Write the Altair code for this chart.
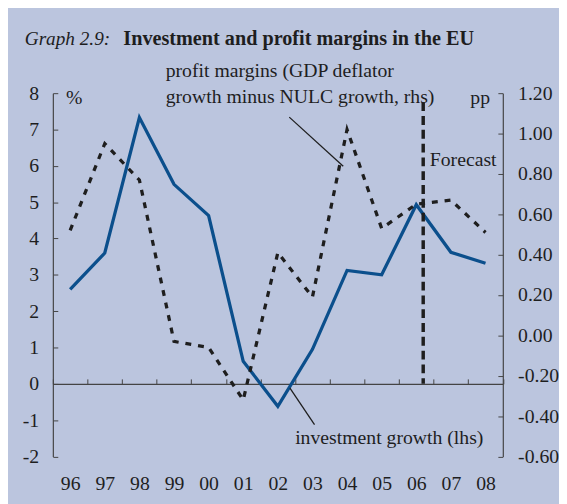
import altair as alt
import pandas as pd

# ---- data -------------------------------------------------------------
years = ["96", "97", "98", "99", "00", "01", "02", "03", "04", "05", "06", "07", "08"]
investment = [2.6, 3.6, 7.33, 5.49, 4.63, 0.62, -0.62, 0.95, 3.12, 3.0, 4.93, 3.62, 3.32]
profit = [0.52, 0.95, 0.77, -0.03, -0.06, -0.32, 0.41, 0.19, 1.02, 0.53, 0.65, 0.67, 0.51]
left_ticks = [-2, -1, 0, 1, 2, 3, 4, 5, 6, 7, 8]
right_ticks = [-0.6, -0.4, -0.2, 0.0, 0.2, 0.4, 0.6, 0.8, 1.0, 1.2]
forecast_pos = 10.7   # between 06 and 07 (index units)

FONT = "Liberation Serif"
BG = "#bbc5de"
BLUE = "#0b4f8c"
INK = "#1e1e1e"
AXC = "#444444"
FS = 20

W, H = 456.5, 368.6
n = len(years)
df = pd.DataFrame({
    "pos": [i + 0.5 for i in range(n)],
    "year": years,
    "investment": investment,
    "profit": profit,
})

xscale = alt.Scale(domain=[0, n], nice=False, zero=False)
lscale = alt.Scale(domain=[-2, 8], nice=False, zero=False)
rscale = alt.Scale(domain=[-0.6, 1.2], nice=False, zero=False)

year_arr = "[" + ",".join("'" + y + "'" for y in years) + "]"
zero_offset = -H * (0 - (-2)) / 10.0

inv = alt.Chart(df).mark_line(color=BLUE, strokeWidth=3.3).encode(
    x=alt.X("pos:Q", scale=xscale, axis=alt.Axis(
        orient="bottom", offset=zero_offset, values=list(range(n + 1)),
        labels=False, tickSize={"expr": "-5"}, tickColor=AXC, tickWidth=1,
        domainColor=AXC, domainWidth=1.2, grid=False, title=None)),
    y=alt.Y("investment:Q", scale=lscale, axis=alt.Axis(
        orient="left", values=left_ticks, tickSize={"expr": "-5"},
        tickColor=AXC, domainColor=AXC, domainWidth=1.2, labelPadding=19.5,
        labelExpr="datum.value < 0 ? '-' + abs(datum.value) : '' + datum.value",
        labelFont=FONT, labelFontSize=FS, labelColor=INK, grid=False, title=None)),
)

prof = alt.Chart(df).mark_line(color=INK, strokeWidth=3.3, strokeDash=[6, 7]).encode(
    x=alt.X("pos:Q", scale=xscale, axis=alt.Axis(
        orient="bottom", values=[i + 0.5 for i in range(n)], ticks=False, domain=False,
        labelExpr=year_arr + "[floor(datum.value)]", labelPadding=18,
        labelFont=FONT, labelFontSize=FS, labelColor=INK, grid=False, title=None)),
    y=alt.Y("profit:Q", scale=rscale, axis=alt.Axis(
        orient="right", values=right_ticks, tickSize={"expr": "-5"},
        tickColor=AXC, domainColor=AXC, domainWidth=1.2, labelPadding=20,
        labelExpr="(datum.value < -0.001 ? '-' : '') + format(abs(datum.value), '.2f')",
        labelFont=FONT, labelFontSize=FS, labelColor=INK, grid=False, title=None)),
)

fc = pd.DataFrame({"x": [forecast_pos], "y": [7.75], "y2": [0]})
forecast = alt.Chart(fc).mark_rule(color=INK, strokeWidth=3.5, strokeDash=[9, 5]).encode(
    x=alt.X("x:Q", scale=xscale, axis=None),
    y=alt.Y("y:Q", scale=lscale, axis=None),
    y2="y2:Q",
)

lead = pd.DataFrame({
    "x": [6.83, 6.85], "x2": [8.39, 7.56],
    "y": [7.34, -0.12], "y2": [5.99, -1.12],
})
leaders = alt.Chart(lead).mark_rule(color=INK, strokeWidth=1.3).encode(
    x=alt.X("x:Q", scale=xscale, axis=None), x2="x2:Q",
    y=alt.Y("y:Q", scale=lscale, axis=None), y2="y2:Q",
)

ann_left = pd.DataFrame({
    "text": ["profit margins (GDP deflator", "growth minus NULC growth, rhs)", "%",
             "Forecast", "investment growth (lhs)"],
    "x": [3.26, 3.26, 0.38, 10.89, 7.0],
    "y": [8.62, 7.89, 7.86, 6.15, -1.5],
})
ann_l = alt.Chart(ann_left).mark_text(align="left", baseline="middle", font=FONT,
                                      fontSize=FS, color=INK).encode(
    x=alt.X("x:Q", scale=xscale, axis=None),
    y=alt.Y("y:Q", scale=lscale, axis=None),
    text="text:N",
)
ann_right = pd.DataFrame({"text": ["pp"], "x": [12.63], "y": [7.86]})
ann_r = alt.Chart(ann_right).mark_text(align="right", baseline="middle", font=FONT,
                                       fontSize=FS, color=INK).encode(
    x=alt.X("x:Q", scale=xscale, axis=None),
    y=alt.Y("y:Q", scale=lscale, axis=None),
    text="text:N",
)

title_df = pd.DataFrame({"a": ["Graph 2.9:"], "b": ["Investment and profit margins in the EU"]})
t1 = alt.Chart(title_df).mark_text(align="left", baseline="alphabetic", font=FONT,
                                   fontSize=19.5, fontStyle="italic", color=INK).encode(
    x=alt.value(25 - 53.5), y=alt.value(41.7 - 90.8), text="a:N")
t2 = alt.Chart(title_df).mark_text(align="left", baseline="alphabetic", font=FONT,
                                   fontSize=20.5, fontWeight="bold", color=INK).encode(
    x=alt.value(125 - 53.5), y=alt.value(41.7 - 90.8), text="b:N")

chart = alt.layer(inv, prof, forecast, leaders, ann_l, ann_r, t1, t2).resolve_scale(
    y="independent"
).resolve_axis(
    x="independent", y="independent"
).properties(
    width=W, height=H,
    autosize=alt.AutoSizeParams(type="none"),
    padding={"left": 45.5, "top": 82.8, "right": 559 - 45.5 - W, "bottom": 496 - 82.8 - H},
    background=BG,
).configure_view(stroke=None)

chart.save("out.html", embed_options={"renderer": "svg", "actions": False})
